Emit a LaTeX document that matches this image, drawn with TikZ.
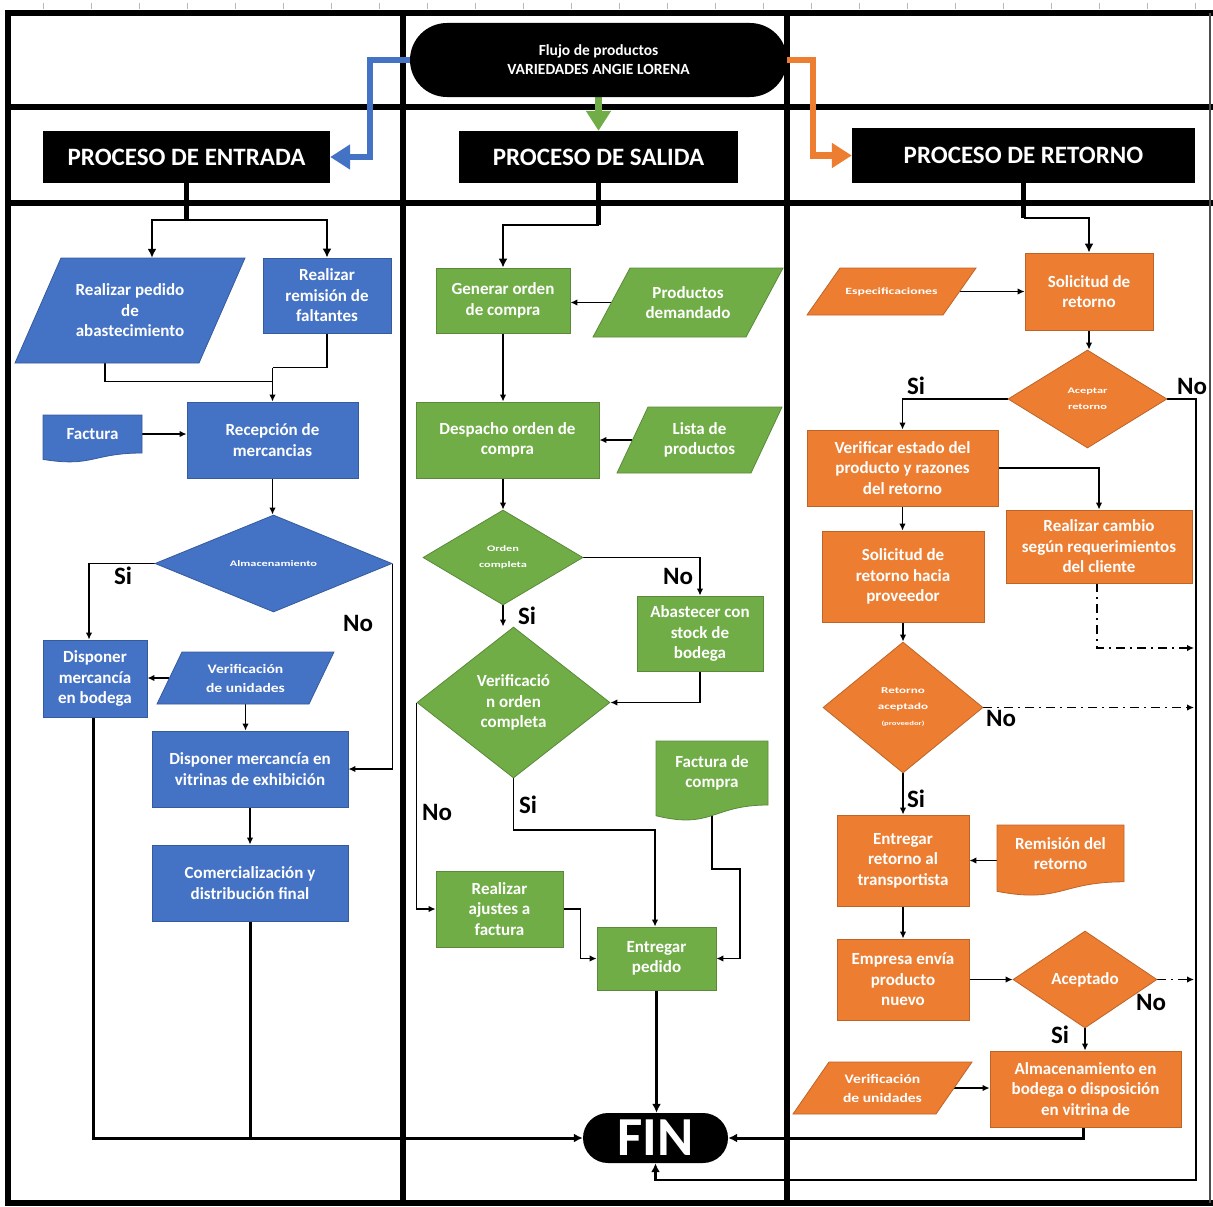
\documentclass[tikz,border=0pt]{standalone}
\usepackage{fontspec}
\setmainfont{Carlito}
\newfontfamily\wideface{Carlito}[FakeStretch=1.45]
\newfontfamily\semiwideface{Carlito}[FakeStretch=1.2]
\usetikzlibrary{arrows.meta,shapes.geometric,calc}
\definecolor{blueC}{HTML}{4472C4}
\definecolor{greenC}{HTML}{70AD47}
\definecolor{orangeC}{HTML}{ED7D31}
\pgfdeclarelayer{frame}
\pgfdeclarelayer{lines}
\pgfsetlayers{frame,lines,main}

% font settings
\newcommand{\fsBody}{\fontsize{17}{20.5}\selectfont\bfseries}
\newcommand{\fsHead}{\fontsize{25}{30}\selectfont\bfseries}
\newcommand{\fsTitle}{\fontsize{15.5}{19}\selectfont\bfseries}
\newcommand{\fsWide}[1]{\wideface\fontsize{#1}{16}\selectfont\bfseries}
\newcommand{\fsSemi}{\semiwideface\fontsize{13}{19}\selectfont\bfseries}
\newcommand{\fsLabel}{\fontsize{25}{25}\selectfont\bfseries}
\newcommand{\fsFin}{\fontsize{55}{55}\selectfont\bfseries}

% slanted input box: [node options]{name}{colour}{y top}{y bottom}{x top left}{x top right}{shift of bottom edge}{text}
\newcommand{\slantbox}[9][]{%
  \filldraw[fill=#3, draw=#3!80!black, line width=0.8pt]
    (#6,#4) -- (#7,#4) -- ({#7-#8},#5) -- ({#6-#8},#5) -- cycle;
  \node[base, minimum width={#7-#6}, minimum height={#5-#4}, #1]
    (#2) at ({(#6+#7-#8)/2},{(#4+#5)/2}) {#9};}

% document box with wavy bottom: [node options]{name}{colour}{x left}{y top}{x right}{height}{text}
\newcommand{\docbox}[8][]{%
  \filldraw[fill=#3, draw=#3!80!black, line width=0.8pt]
    (#4,#5) -- (#6,#5) -- (#6,{#5+0.8*#7})
    .. controls ({(#4+#6)/2},{#5+0.8*#7}) and ({(#4+#6)/2},{#5+1.107*#7}) .. (#4,{#5+0.934*#7}) -- cycle;
  \node[base, minimum width={#6-#4}, minimum height={0.8*#7}, #1]
    (#2) at ({(#4+#6)/2},{#5+0.4*#7}) {#8};}

\begin{document}
\begin{tikzpicture}[x=1pt,y=-1pt,
  base/.style={align=center, text=white, inner sep=0pt, font=\fsBody},
  sz/.style 2 args={minimum width=#1, minimum height=#2},
  hdr/.style={base, rectangle, fill=black, font=\fsHead},
  bbox/.style={base, rectangle, fill=blueC, draw=blueC!80!black, line width=0.8pt},
  gbox/.style={base, rectangle, fill=greenC, draw=greenC!80!black, line width=0.8pt},
  obox/.style={base, rectangle, fill=orangeC, draw=orangeC!80!black, line width=0.8pt},
  bdia/.style={bbox, diamond},
  gdia/.style={gbox, diamond},
  odia/.style={obox, diamond},
  finbox/.style={base, rectangle, fill=black, rounded corners=25pt, sz={145}{50}, font=\fsFin},
  lbl/.style={inner sep=0pt, text=black, font=\fsLabel},
  tbl/.style={line width=6.5pt, line cap=rect},
  plain/.style={line width=1.6pt},
  conn/.style={line width=1.6pt, -{Latex[length=7pt,width=6.5pt]}},
  heavy/.style={line width=3pt, -{Latex[length=9pt,width=9pt]}},
  stem/.style={line width=5pt},
  branch/.style={line width=2.6pt, -{Latex[length=9pt,width=9pt]}},
  dashdot/.style={line width=1.5pt, dash pattern=on 9pt off 5pt on 2pt off 5pt,
    -{Latex[length=7pt,width=6.5pt]}},
  bigarrow/.style={line width=6.5pt, line join=miter, -{Triangle[length=20pt,width=24pt]}}
]
\useasboundingbox (0,0) rectangle (1213,1207);

% ---------- table frame ----------
\begin{pgfonlayer}{frame}
  \fill[white] (0,0) rectangle (1213,1207);
  \foreach \t in {43,91,...,1200} \draw[gray!55, line width=0.7pt] (\t,3) -- (\t,9);
  \draw[tbl] (8,1203) -- (8,13) -- (1213,13);
  \draw[tbl] (8,107) -- (1213,107);
  \draw[tbl] (8,203) -- (1213,203);
  \draw[tbl] (403,13) -- (403,1203);
  \draw[tbl] (787,13) -- (787,1203);
  \draw[tbl] (8,1203) -- (1211,1203);
  \draw[gray!60!black, line width=1.5pt] (1210,13) -- (1210,1203);
\end{pgfonlayer}

% ---------- headers ----------
\node[hdr, sz={377}{74}, rounded corners=37pt, font=\fsTitle] (title) at (598.5,60)
  {Flujo de productos\\VARIEDADES ANGIE LORENA};
\node[hdr, sz={287}{52}] (hEnt) at (186.5,157) {PROCESO DE ENTRADA};
\node[hdr, sz={279}{52}] (hSal) at (598.5,157) {PROCESO DE SALIDA};
\node[hdr, sz={343}{55}] (hRet) at (1023.5,155.5) {PROCESO DE RETORNO};

% ---------- entrada ----------
\slantbox{pedido}{blueC}{258}{363}{61}{245}{46}{Realizar pedido\\de\\abastecimiento}
\node[bbox, sz={128}{75}] (remision) at (327,295.5) {Realizar\\remisión de\\faltantes};
\docbox{factura}{blueC}{43}{415}{142}{47.5}{Factura}
\node[bbox, sz={171}{76}] (recepcion) at (272.5,440) {Recepción de\\mercancias};
\node[bdia, sz={237}{97}, font=\fsWide{8.5}] (almac) at (273.5,563.5) {Almacenamiento};
\node[bbox, sz={104}{77}] (bodega) at (95,678.5) {Disponer\\mercancía\\en bodega};
\slantbox[font=\fsSemi]{verifU}{blueC}{652}{704}{182}{334}{25}{Verificación\\de unidades}
\node[bbox, sz={196}{76}] (vitrinas) at (250,769) {Disponer mercancía en\\vitrinas de exhibición};
\node[bbox, sz={196}{76}] (comerc) at (250,883) {Comercialización y\\distribución final};

% ---------- salida ----------
\node[gbox, sz={134}{65}] (generar) at (503,300.5) {Generar orden\\de compra};
\slantbox{prod}{greenC}{268}{337}{630}{783}{37}{Productos\\demandado}
\node[gbox, sz={183}{76}] (despacho) at (507.5,440) {Despacho orden de\\compra};
\slantbox{lista}{greenC}{407}{473}{648}{782}{31}{Lista de\\productos}
\node[gdia, sz={160}{95}, font=\fsWide{8.5}] (ordenC) at (503,557.5) {Orden\\completa};
\node[gbox, sz={126}{75}] (abast) at (700,633.5) {Abastecer con\\stock de\\bodega};
\node[gdia, sz={193}{151}] (verifO) at (513.5,702.5) {Verificació\\n orden\\completa};
\docbox{facC}{greenC}{656}{741}{768}{80}{Factura de\\compra}
\node[gbox, sz={127}{76}] (ajustes) at (499.5,909) {Realizar\\ajustes a\\factura};
\node[gbox, sz={119}{63}] (entregar) at (656.5,958.5) {Entregar\\pedido};
\node[finbox] (fin) at (655.5,1138) {FIN};

% ---------- retorno ----------
\node[obox, sz={128}{77}] (solic) at (1089,291.5) {Solicitud de\\retorno};
\slantbox[font=\fsWide{9.5}]{espec}{orangeC}{268}{315}{840}{976}{33}{Especificaciones}
\node[odia, sz={159}{98}, font=\fsWide{8.5}] (acept) at (1087.5,399) {Aceptar\\retorno};
\node[obox, sz={191}{76}] (verif) at (902.5,468) {Verificar estado del\\producto y razones\\del retorno};
\node[obox, sz={186}{73}] (cambio) at (1099,546.5) {Realizar cambio\\según requerimientos\\del cliente};
\node[obox, sz={162}{91}] (solProv) at (903,576.5) {Solicitud de\\retorno hacia\\proveedor};
\node[odia, sz={160}{131}, font=\fsWide{9}] (retAc) at (903,707.5)
  {Retorno\\aceptado\\{\fontsize{6}{8}\selectfont (proveedor)}};
\node[obox, sz={132}{91}] (entT) at (903,860.5) {Entregar\\retorno al\\transportista};
\docbox{remR}{orangeC}{997}{825}{1124}{71}{Remisión del\\retorno}
\node[obox, sz={132}{81}] (empresa) at (903,979.5) {Empresa envía\\producto\\nuevo};
\node[odia, sz={144}{97}] (aceptado) at (1085,979.5) {Aceptado};
\node[obox, sz={191}{76}] (almac2) at (1085.5,1089) {Almacenamiento en\\bodega o disposición\\en vitrina de};
\slantbox[font=\fsSemi]{verifU2}{orangeC}{1062}{1114}{829}{972}{36}{Verificación\\de unidades}

% ---------- branch labels ----------
\node[lbl] (siA) at (123,576) {Si};
\node[lbl] (noA) at (358,623) {No};
\node[lbl] (noB) at (678,576) {No};
\node[lbl] (siB) at (527,616) {Si};
\node[lbl] (noC) at (437,812) {No};
\node[lbl] (siC) at (528,805) {Si};
\node[lbl] (siD) at (916,386) {Si};
\node[lbl] (noD) at (1192,386) {No};
\node[lbl] (noE) at (1001,718) {No};
\node[lbl] (siE) at (916,799) {Si};
\node[lbl] (noF) at (1151,1002) {No};
\node[lbl] (siF) at (1060,1035) {Si};

% ---------- connectors ----------
\begin{pgfonlayer}{lines}
  % from the title to the three processes
  \draw[bigarrow, draw=blueC] (title.west) -| ($(hEnt.east)+(40,0)$) -- (hEnt.east);
  \draw[bigarrow, draw=greenC] (title.south) -- (hSal.north);
  \draw[bigarrow, draw=orangeC] (title.east) -| ($(hRet.west)+(-39,0)$) -- (hRet.west);

  % entrada
  \coordinate (jE) at (hEnt.south |- 0,220);
  \draw[stem] (hEnt.south) -- (jE);
  \draw[branch] (jE) -| ([xshift=22pt]pedido.north);
  \draw[branch] (jE) -| (remision.north);
  \draw[plain] ([xshift=-25pt]pedido.south) |- ($(recepcion.north)+(0,-20)$);
  \draw[plain] (remision.south) |- ($(recepcion.north)+(0,-34)$);
  \draw[conn] ($(recepcion.north)+(0,-34)$) -- (recepcion.north);
  \draw[conn] (factura.east) -- (factura.east -| recepcion.west);
  \draw[conn] (recepcion.south) -- (recepcion.south |- almac.north);
  \draw[conn] (almac.west) -| ([xshift=-6pt]bodega.north);
  \draw[conn] (almac.east) |- (vitrinas.east);
  \draw[conn] (verifU.west) -- (verifU.west -| bodega.east);
  \draw[conn] (verifU.south) -- (verifU.south |- vitrinas.north);
  \draw[conn] (vitrinas.south) -- (comerc.north);
  \draw[heavy] ([xshift=-2pt]bodega.south) |- (fin.west);
  \draw[line width=3pt] (comerc.south) -- (comerc.south |- fin.west);

  % salida
  \coordinate (jS) at (hSal.south |- 0,225);
  \draw[stem] (hSal.south) -- (jS);
  \draw[branch] (jS) -| (generar.north);
  \draw[conn] (prod.west) -- (prod.west -| generar.east);
  \draw[conn] (generar.south) -- (generar.south |- despacho.north);
  \draw[conn] (lista.west) -- (lista.west -| despacho.east);
  \draw[conn] (ordenC.north |- despacho.south) -- (ordenC.north);
  \draw[conn] (ordenC.east) -| (abast.north);
  \draw[conn] (ordenC.south) -- (ordenC.south |- verifO.north);
  \draw[conn] (abast.south) |- (verifO.east);
  \draw[conn] (verifO.west) |- (ajustes.west);
  \coordinate (bS) at (verifO.south |- 0,830);
  \draw[conn] (verifO.south) -- (bS) -| ([xshift=-1.5pt]entregar.north);
  \coordinate (bF) at (740,869);
  \draw[conn] (facC.south) |- (bF) |- (entregar.east);
  \draw[conn] (ajustes.east) -- ++(17,0) |- (entregar.west);
  \draw[heavy] (entregar.south) -- (entregar.south |- fin.north);

  % retorno
  \coordinate (jR) at (hRet.south |- 0,218);
  \draw[stem] (hRet.south) -- (jR);
  \draw[branch] (jR) -| (solic.north);
  \draw[conn] (espec.east) -- (espec.east -| solic.west);
  \draw[conn] (solic.south) -- (solic.south |- acept.north);
  \draw[conn] (acept.west) -| (verif.north);
  \coordinate (rr) at (1196,1180);
  \coordinate (d1) at (1194,648);
  \draw[line width=2.6pt, -{Latex[length=9pt,width=9pt]}] (acept.east) -| (rr) -| (fin.south);
  \draw[conn] (verif.east) -| (cambio.north);
  \draw[dashdot] ([xshift=-2pt]cambio.south) |- (d1);
  \draw[conn] (verif.south) -- (verif.south |- solProv.north);
  \draw[conn] (solProv.south) -- (retAc.north);
  \draw[dashdot] (retAc.east) -- (retAc.east -| d1);
  \draw[conn] (retAc.south) -- (entT.north);
  \draw[conn] (remR.west |- entT.east) -- (entT.east);
  \draw[conn] (entT.south) -- (empresa.north);
  \draw[conn] (empresa.east) -- (aceptado.west);
  \draw[dashdot] (aceptado.east) -- (aceptado.east -| d1);
  \draw[conn] (aceptado.south) -- (aceptado.south |- almac2.north);
  \draw[conn] (verifU2.east) -- (verifU2.east -| almac2.west);
  \draw[heavy] ([xshift=-2pt]almac2.south) |- (fin.east);
\end{pgfonlayer}
\end{tikzpicture}
\end{document}
